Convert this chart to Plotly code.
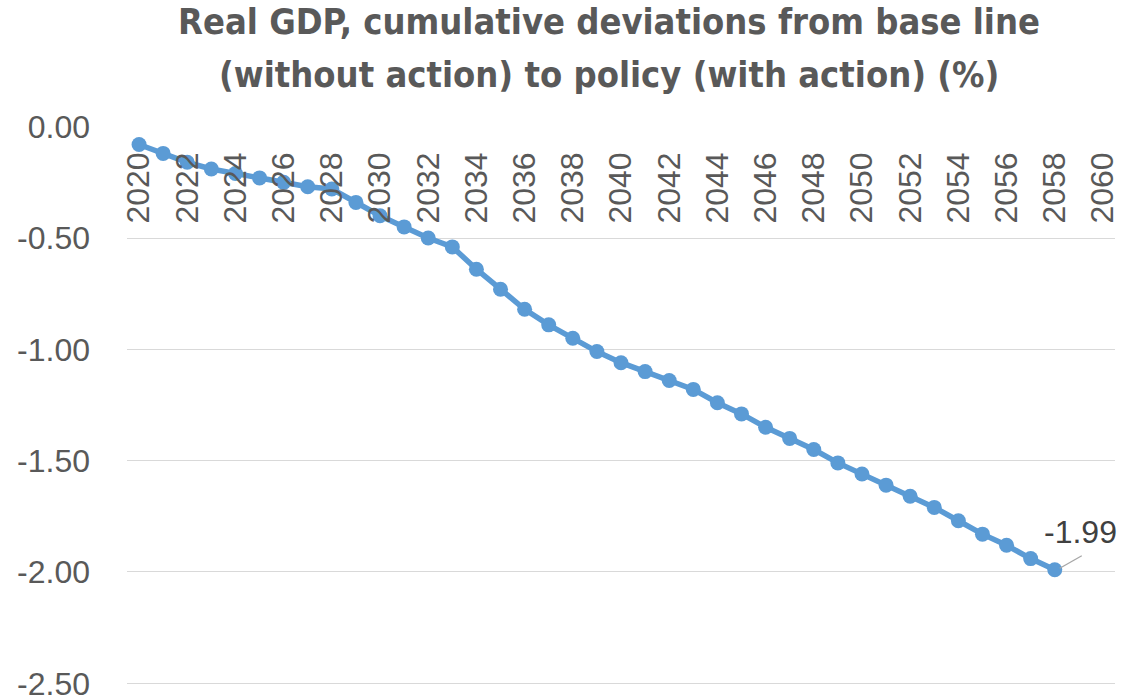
import plotly.graph_objects as go

# Real GDP: cumulative deviation of the policy scenario from the baseline, in %
years = list(range(2020, 2059))
gdp_dev = [
    -0.08, -0.12, -0.16, -0.19, -0.21, -0.23, -0.25, -0.27, -0.28, -0.34,
    -0.40, -0.45, -0.50, -0.54, -0.64, -0.73, -0.82, -0.89, -0.95, -1.01,
    -1.06, -1.10, -1.14, -1.18, -1.24, -1.29, -1.35, -1.40, -1.45, -1.51,
    -1.56, -1.61, -1.66, -1.71, -1.77, -1.83, -1.88, -1.94, -1.99,
]
year_ticks = list(range(2020, 2061, 2))
y_ticks = [0.0, -0.5, -1.0, -1.5, -2.0, -2.5]
title_lines = [
    "Real GDP, cumulative deviations from base line",
    "(without action) to policy (with action) (%)",
]

BLUE = "#5B9BD5"
GREY_TXT = "#595959"
FONT = "Liberation Sans"
TITLE_FONT = "DejaVu Sans Condensed"

fig = go.Figure()
fig.add_trace(go.Scatter(
    x=years, y=gdp_dev, mode="lines+markers",
    line=dict(color=BLUE, width=5.5),
    marker=dict(color=BLUE, size=15),
    showlegend=False, hoverinfo="x+y",
))

# value label on the final year, with a short leader line
fig.add_annotation(
    x=years[-1], y=gdp_dev[-1], xref="x", yref="y",
    text=f"{gdp_dev[-1]:.2f}", showarrow=False, xshift=26, yshift=38,
    font=dict(family=FONT, size=32, color="#404040"),
)
fig.add_shape(
    type="line", xref="x", yref="y",
    xsizemode="pixel", ysizemode="pixel",
    xanchor=years[-1], yanchor=gdp_dev[-1],
    x0=5, y0=1.5, x1=27, y1=14,
    line=dict(color="#A6A6A6", width=1.3),
)

# two-line bold title, placed above the plot area
for line, ypos in zip(title_lines, [1.186, 1.091]):
    fig.add_annotation(
        x=0.488, y=ypos, xref="paper", yref="paper",
        xanchor="center", yanchor="middle", showarrow=False,
        text=f"<b>{line}</b>",
        font=dict(family=TITLE_FONT, size=36, color=GREY_TXT),
    )

fig.update_layout(
    width=1144, height=699,
    margin=dict(l=127, r=29, t=126, b=12, autoexpand=False),
    paper_bgcolor="white", plot_bgcolor="white",
    xaxis=dict(
        range=[2019.5, 2060.5], tickmode="array", tickvals=year_ticks,
        ticktext=[str(y) for y in year_ticks], tickangle=-90,
        anchor="free", position=1, side="bottom", automargin=False,
        showgrid=False, zeroline=False, showline=False,
        ticks="", ticklabelstandoff=19,
        tickfont=dict(family=FONT, size=32, color=GREY_TXT),
    ),
    yaxis=dict(
        range=[-2.5166, 0.0031], tickmode="array", tickvals=y_ticks,
        ticktext=[f"{v:.2f}" for v in y_ticks], automargin=False,
        showgrid=True, gridcolor="#D9D9D9", gridwidth=1.3,
        zeroline=False, showline=False, ticks="", ticklabelstandoff=36,
        ticklabeloverflow="allow",
        tickfont=dict(family=FONT, size=32, color=GREY_TXT),
    ),
)

fig.write_html("out.html")
